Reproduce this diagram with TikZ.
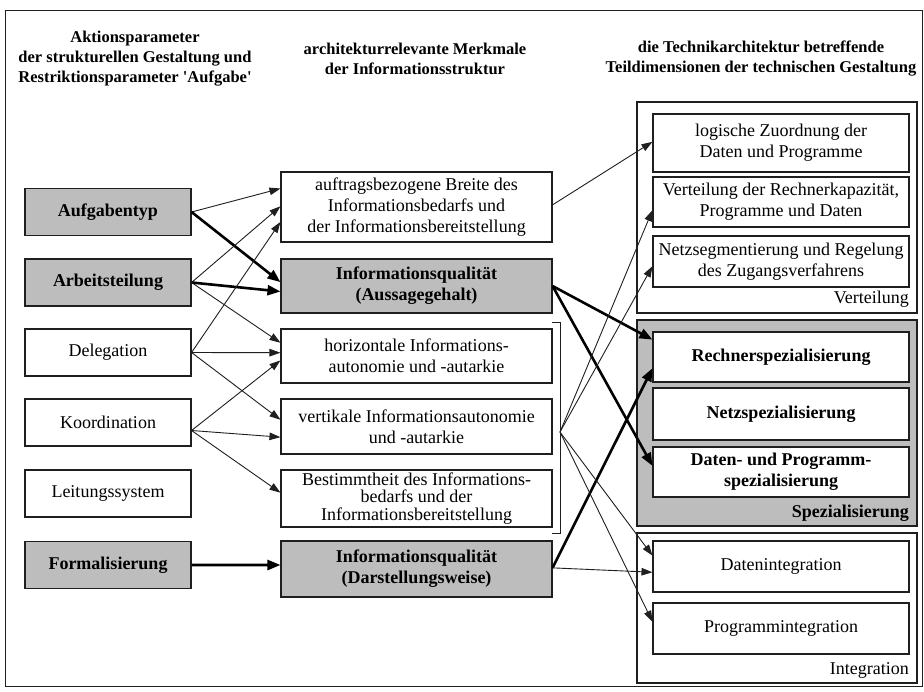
\documentclass[tikz,border=0pt]{standalone}
\usepackage{fontspec}
\setmainfont{Liberation Serif}
\usetikzlibrary{arrows.meta,calc}
\definecolor{halftone}{gray}{0.74}
\definecolor{ink}{gray}{0.12}
\tikzset{
  bx/.style={draw=ink, line width=1.1pt, fill=white, align=center, inner xsep=2pt, inner ysep=0pt,
     font=\fontsize{18}{21}\selectfont},
  lbox/.style={bx, minimum width=166pt, minimum height=47pt},
  mbox/.style={bx, minimum width=271pt},
  rbox/.style={bx, minimum width=256pt},
  shaded/.style={fill=halftone, font=\fontsize{18}{21}\selectfont\bfseries},
  grp/.style={draw=ink, line width=1.1pt, fill=white},
  hdr/.style={align=center, font=\fontsize{16.5}{20}\selectfont\bfseries},
  glabel/.style={anchor=east, inner sep=0pt, font=\fontsize{18}{21}\selectfont},
  thinarr/.style={draw=ink, line width=0.9pt, -{Triangle[length=11pt,width=7.5pt]}},
  thickarr/.style={draw=black, line width=2.6pt, -{Triangle[length=13pt,width=10pt]}},
}
\begin{document}
\begin{tikzpicture}[x=1pt,y=-1pt]
\fill[white] (0,0) rectangle (924,691);
\useasboundingbox (0,0) rectangle (924,691);
\draw[ink, line width=1pt] (5,10) rectangle (922,686);

% headers
\node[hdr] (h1) at (135,59) {Aktionsparameter\\der strukturellen Gestaltung und\\Restriktionsparameter \textquotesingle Aufgabe\textquotesingle};
\node[hdr] (h2) at (415,59) {architekturrelevante Merkmale\\der Informationsstruktur};
\node[hdr] (h3) at (761,59) {die Technikarchitektur betreffende\\Teildimensionen der technischen Gestaltung};

% left column
\node[lbox, shaded] (aufg) at (108,212) {Aufgabentyp};
\node[lbox, shaded] (arb) at (108,282.5) {Arbeitsteilung};
\node[lbox] (del) at (108,352.5) {Delegation};
\node[lbox] (koord) at (108,422.5) {Koordination};
\node[lbox] (leit) at (108,493.5) {Leitungssystem};
\node[lbox, shaded] (form) at (108,565) {Formalisierung};

% middle column
\node[mbox, minimum height=70pt] (auftr) at (416.5,207) {auftragsbezogene Breite des\\Informationsbedarfs und\\der Informationsbereitstellung};
\node[mbox, shaded, minimum height=54pt] (iqa) at (416.5,286) {Informationsqualität\\(Aussagegehalt)};
\node[mbox, minimum height=54pt] (horiz) at (416.5,356) {horizontale Informations-\\autonomie und -autarkie};
\node[mbox, minimum height=55pt] (vert) at (416.5,426.5) {vertikale Informationsautonomie\\und -autarkie};
\node[mbox, minimum height=57pt, font=\fontsize{18}{17.5}\selectfont] (best) at (416.5,498.5) {Bestimmtheit des Informations-\\bedarfs und der\\Informationsbereitstellung};
\node[mbox, shaded, minimum height=56pt] (iqd) at (416.5,569) {Informationsqualität\\(Darstellungsweise)};

% bracket
\coordinate (bt) at (552,322);
\coordinate (bb) at (552,533);
\coordinate (brk) at (560,432);
\draw[ink, line width=1pt] (bt) -- (560,322) -- (560,533) -- (bb);

% right column groups
\draw[grp] (637,102) rectangle (917,313);
\draw[grp, fill=halftone] (637,320) rectangle (917,526);
\draw[grp] (637,533) rectangle (917,683);
\node[glabel] (lverteil) at (909,299) {Verteilung};
\node[glabel, font=\fontsize{18}{21}\selectfont\bfseries] (lspez) at (909,513) {Spezialisierung};
\node[glabel] (linteg) at (909,670) {Integration};

\node[rbox, minimum height=58pt] (logz) at (781,143) {logische Zuordnung der\\Daten und Programme};
\node[rbox, minimum height=50pt] (vdr) at (781,202) {Verteilung der Rechnerkapazität,\\Programme und Daten};
\node[rbox, minimum height=51pt] (netzseg) at (781,261.5) {Netzsegmentierung und Regelung\\des Zugangsverfahrens};
\node[rbox, minimum height=50pt, font=\fontsize{18}{21}\selectfont\bfseries] (rspez) at (781,357) {Rechnerspezialisierung};
\node[rbox, minimum height=52pt, font=\fontsize{18}{21}\selectfont\bfseries] (nspez) at (781,414) {Netzspezialisierung};
\node[rbox, minimum height=50pt, font=\fontsize{18}{21}\selectfont\bfseries] (dpspez) at (781,472) {Daten- und Programm-\\spezialisierung};
\node[rbox, minimum height=51pt] (dint) at (781,566.5) {Datenintegration};
\node[rbox, minimum height=51pt] (pint) at (781,628.5) {Programmintegration};

% left -> middle
\draw[thinarr] (aufg.east) -- ($(auftr.north west)!0.24!(auftr.south west)$);
\draw[thickarr] (aufg.east) -- ($(iqa.north west)!0.43!(iqa.south west)$);
\draw[thinarr] (arb.east) -- ($(auftr.north west)!0.49!(auftr.south west)$);
\draw[thickarr] (arb.east) -- ($(iqa.north west)!0.60!(iqa.south west)$);
\draw[thinarr] (arb.east) -- ($(horiz.north west)!0.26!(horiz.south west)$);
\draw[thinarr] (del.east) -- ($(auftr.north west)!0.71!(auftr.south west)$);
\draw[thinarr] (del.east) -- ($(horiz.north west)!0.44!(horiz.south west)$);
\draw[thinarr] (del.east) -- ($(vert.north west)!0.38!(vert.south west)$);
\draw[thinarr] ($(koord.east)+(0,8)$) -- ($(horiz.north west)!0.58!(horiz.south west)$);
\draw[thinarr] ($(koord.east)+(0,8)$) -- ($(vert.north west)!0.69!(vert.south west)$);
\draw[thinarr] ($(koord.east)+(0,8)$) -- ($(best.north west)!0.40!(best.south west)$);
\draw[thickarr] (form.east) -- ($(iqd.north west)!0.43!(iqd.south west)$);

% middle -> right
\draw[thinarr] ($(auftr.north east)!0.47!(auftr.south east)$) -- ($(logz.north west)!0.48!(logz.south west)$);
\draw[thickarr] ($(iqa.north east)!0.5!(iqa.south east)$) -- ($(rspez.north west)!0.16!(rspez.south west)$);
\draw[thickarr] ($(iqa.north east)!0.5!(iqa.south east)$) -- ($(dpspez.north west)!0.38!(dpspez.south west)$);
\draw[thickarr] ($(iqd.north east)!0.48!(iqd.south east)$) -- ($(rspez.north west)!0.72!(rspez.south west)$);
\draw[thinarr] ($(iqd.north east)!0.48!(iqd.south east)$) -- ($(dint.north west)!0.61!(dint.south west)$);
\draw[thinarr] (brk) -- ($(vdr.north west)!0.66!(vdr.south west)$);
\draw[thinarr] (brk) -- ($(netzseg.north west)!0.59!(netzseg.south west)$);
\draw[thinarr] (brk) -- ($(dint.north west)!0.29!(dint.south west)$);
\draw[thinarr] (brk) -- ($(pint.north west)!0.37!(pint.south west)$);
\end{tikzpicture}
\end{document}
